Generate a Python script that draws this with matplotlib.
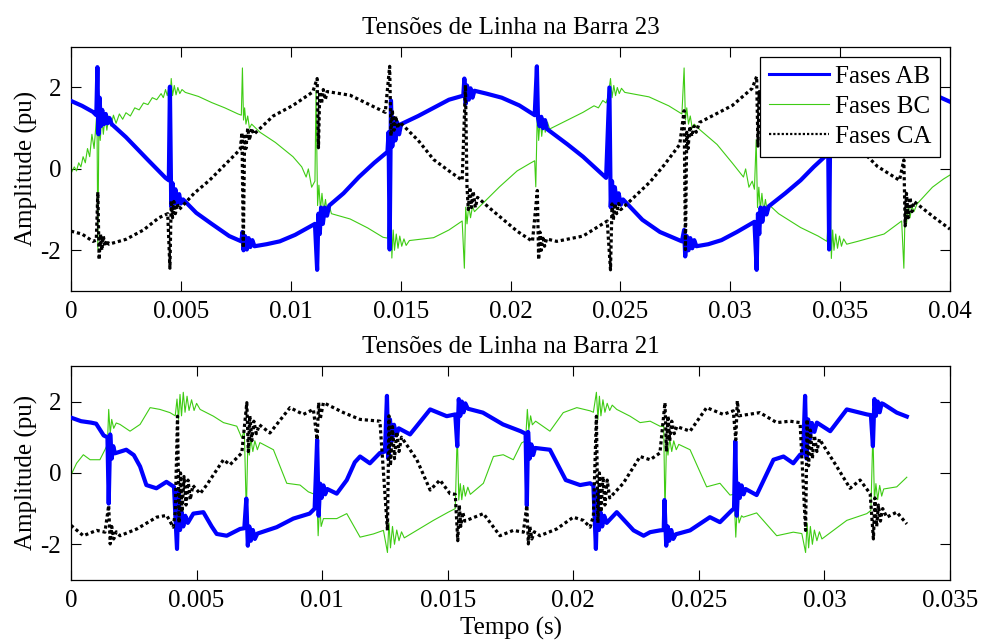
import numpy as np
import matplotlib
matplotlib.use("Agg")
import matplotlib.pyplot as plt

plt.rcParams['font.family'] = ['Liberation Serif', 'DejaVu Serif']
plt.rcParams['axes.unicode_minus'] = False

# ---- Barra 23 (tempo em ms, tensão em pu) ----
ab_23 = [(0.0, 1.67), (0.5, 1.55), (1.0, 1.40), (1.15, 1.32),
         (1.2, 2.50), (1.25, 0.85), (1.3, 1.75), (1.36, 1.05), (1.42, 1.45), (1.5, 1.10), (1.58, 1.35),
         (1.66, 1.12), (1.75, 1.25), (1.85, 1.10),
         (2.5, 0.78), (3.5, 0.22), (4.3, -0.22), (4.45, -0.28),
         (4.5, 2.02), (4.56, -0.92), (4.62, -0.35), (4.68, -0.85), (4.75, -0.50), (4.83, -0.85),
         (4.92, -0.62), (5.0, -0.85), (5.1, -0.75),
         (5.7, -1.08), (6.4, -1.35), (7.2, -1.65), (7.75, -1.78),
         (7.8, -1.55), (7.85, -2.0), (7.92, -1.65), (8.0, -1.98), (8.08, -1.7), (8.16, -1.92), (8.25, -1.75),
         (8.35, -1.9),
         (8.9, -1.85), (9.5, -1.78), (10.2, -1.62), (11.1, -1.35),
         (11.2, -2.48), (11.26, -1.1), (11.32, -1.6), (11.38, -0.95), (11.46, -1.35), (11.55, -0.95),
         (11.65, -1.15), (11.75, -0.9),
         (12.4, -0.6), (13.1, -0.2), (13.8, 0.15), (14.4, 0.42),
         (14.45, 0.9), (14.5, -1.98), (14.56, 1.68), (14.62, 0.55), (14.68, 1.25), (14.76, 0.7), (14.84, 1.15),
         (14.93, 0.85), (15.02, 1.1),
         (15.8, 1.3), (16.5, 1.5), (17.2, 1.7), (17.85, 1.8),
         (17.9, 2.22), (17.96, 1.6), (18.02, 2.05), (18.1, 1.7), (18.18, 1.98), (18.27, 1.75), (18.36, 1.92),
         (18.9, 1.85), (19.6, 1.75), (20.4, 1.56), (21.1, 1.32),
         (21.2, 2.52), (21.25, 1.25), (21.32, 1.05), (21.4, 1.28), (21.48, 1.0), (21.57, 1.2), (21.66, 0.98),
         (22.6, 0.6), (23.3, 0.3), (24.35, -0.22),
         (24.5, 2.0), (24.56, -0.94), (24.62, -0.3), (24.68, -0.85), (24.75, -0.45), (24.83, -0.85),
         (24.92, -0.6), (25.02, -0.88), (25.12, -0.75),
         (26.0, -1.25), (26.8, -1.55), (27.8, -1.78),
         (27.9, -1.5), (27.95, -2.15), (28.02, -1.65), (28.1, -2.0), (28.18, -1.7), (28.27, -1.95),
         (28.36, -1.75), (28.46, -1.9),
         (29.0, -1.85), (29.6, -1.75), (30.3, -1.55), (31.1, -1.3),
         (31.2, -2.48), (31.26, -1.1), (31.32, -1.6), (31.38, -0.95), (31.46, -1.3), (31.55, -0.95),
         (31.65, -1.12), (31.75, -0.92),
         (32.5, -0.6), (33.2, -0.28), (33.8, 0.05), (34.4, 0.35),
         (34.45, 0.9), (34.5, -1.98), (34.56, 1.7), (34.62, 0.55), (34.68, 1.25), (34.76, 0.75), (34.85, 1.15),
         (34.95, 0.9),
         (35.8, 1.25), (36.6, 1.55), (37.5, 1.78), (37.85, 1.82),
         (37.9, 2.2), (37.96, 1.6), (38.05, 1.95), (38.15, 1.75),
         (38.8, 1.84), (39.5, 1.77), (40.0, 1.65)]

bc_23 = [(0.0, -0.11), (0.15, 0.05), (0.25, -0.05), (0.35, 0.15), (0.45, 0.05), (0.55, 0.3), (0.65, 0.15),
         (0.75, 0.5), (0.85, 0.3), (0.95, 0.85), (1.05, 0.5), (1.12, 1.0),
         (1.18, 1.4), (1.22, -1.98), (1.27, 1.15), (1.33, 0.7), (1.4, 1.3), (1.47, 0.85), (1.55, 1.3),
         (1.63, 0.95), (1.72, 1.3), (1.82, 1.05), (1.93, 1.32), (2.05, 1.12), (2.2, 1.35), (2.35, 1.22),
         (2.5, 1.38), (2.7, 1.3), (2.9, 1.5), (3.1, 1.45), (3.3, 1.62), (3.5, 1.58), (3.7, 1.75), (3.9, 1.7),
         (4.1, 1.85), (4.2, 1.75), (4.3, 1.95), (4.38, 1.8),
         (4.45, 2.0), (4.5, 1.6), (4.56, 2.22), (4.62, 1.8), (4.7, 2.05), (4.78, 1.82), (4.86, 2.0),
         (4.95, 1.85), (5.05, 1.95), (5.2, 1.88),
         (5.8, 1.78), (6.4, 1.63), (7.0, 1.5), (7.6, 1.35), (7.75, 1.32),
         (7.8, 2.48), (7.85, 1.2), (7.9, 1.5), (7.96, 1.1), (8.04, 1.3), (8.12, 1.0), (8.22, 1.1),
         (8.6, 0.9), (9.3, 0.65), (10.1, 0.3), (10.5, 0.05), (10.7, -0.2), (10.8, 0.0), (10.95, -0.45),
         (11.1, -0.3),
         (11.15, 1.93), (11.22, -0.9), (11.28, -0.4), (11.35, -1.0), (11.42, -0.6), (11.5, -1.05),
         (11.58, -0.75), (11.66, -1.1), (11.75, -0.9), (11.85, -1.1),
         (12.7, -1.23), (13.5, -1.45), (14.2, -1.68), (14.4, -1.7),
         (14.55, -0.53), (14.6, -2.19), (14.66, -1.5), (14.72, -2.0), (14.8, -1.6), (14.88, -1.95),
         (14.96, -1.65), (15.05, -1.9), (15.15, -1.72), (15.25, -1.88), (15.4, -1.76),
         (16.5, -1.69), (17.2, -1.5), (17.8, -1.28),
         (17.9, -2.44), (17.96, -0.94), (18.02, -1.35), (18.1, -0.9), (18.18, -1.2), (18.27, -0.92),
         (18.36, -1.05),
         (19.5, -0.44), (20.3, -0.05), (20.9, 0.14), (21.1, 0.2),
         (21.15, -0.44), (21.22, 1.43), (21.28, 0.7), (21.35, 1.25), (21.42, 0.8), (21.5, 1.2), (21.58, 0.9),
         (21.68, 1.15), (21.78, 0.98),
         (22.6, 1.2), (23.3, 1.39), (23.8, 1.55), (24.0, 1.5), (24.2, 1.68), (24.35, 1.62),
         (24.45, 1.8), (24.55, 2.22), (24.62, 1.75), (24.7, 2.05), (24.78, 1.8), (24.86, 2.0), (24.95, 1.85),
         (25.05, 1.98), (25.2, 1.88),
         (26.3, 1.77), (27.2, 1.55), (27.8, 1.35),
         (27.9, 2.48), (27.96, 1.2), (28.02, 1.5), (28.1, 1.1), (28.18, 1.3), (28.27, 1.0), (28.36, 1.1),
         (28.6, 0.97), (29.4, 0.6), (30.1, 0.14), (30.6, -0.2), (30.7, 0.0), (30.85, -0.45), (31.0, -0.3),
         (31.1, -0.5),
         (31.18, 0.72), (31.24, -0.95), (31.3, -0.45), (31.37, -1.0), (31.44, -0.6), (31.52, -1.05),
         (31.6, -0.75), (31.7, -1.1), (31.8, -0.9),
         (32.2, -1.1), (33.2, -1.44), (34.0, -1.65), (34.4, -1.78),
         (34.55, -0.53), (34.6, -2.2), (34.66, -1.5), (34.72, -2.0), (34.8, -1.6), (34.88, -1.95),
         (34.97, -1.65), (35.06, -1.9), (35.16, -1.72), (35.3, -1.85),
         (35.8, -1.78), (37.0, -1.6), (37.8, -1.28),
         (37.9, -2.44), (37.96, -0.95), (38.02, -1.35), (38.1, -0.9), (38.18, -1.2), (38.27, -0.92),
         (38.36, -1.05), (38.5, -0.86),
         (39.2, -0.45), (39.7, -0.25), (40.0, -0.15)]

ca_23 = [(0.0, -1.53), (0.5, -1.6), (1.0, -1.78), (1.15, -1.75),
         (1.22, -0.57), (1.28, -2.23), (1.34, -1.6), (1.4, -2.0), (1.47, -1.65), (1.55, -1.9), (1.63, -1.75),
         (1.72, -1.85),
         (2.5, -1.73), (3.3, -1.5), (4.0, -1.2), (4.4, -1.1),
         (4.5, -2.44), (4.56, -0.78), (4.62, -1.2), (4.68, -0.8), (4.75, -1.1), (4.83, -0.85), (4.92, -1.0),
         (5.6, -0.6), (6.3, -0.28), (7.0, 0.1), (7.7, 0.48),
         (7.78, 0.89), (7.84, -1.94), (7.9, 0.8), (7.96, 0.5), (8.04, 1.0), (8.12, 0.7), (8.22, 1.0),
         (8.32, 0.85),
         (9.2, 1.3), (10.1, 1.56), (11.0, 1.89),
         (11.2, 2.22), (11.26, 0.52), (11.32, 1.9), (11.4, 1.6), (11.48, 1.95), (11.57, 1.7), (11.66, 1.9),
         (12.7, 1.81), (13.5, 1.6), (14.3, 1.39),
         (14.5, 2.52), (14.56, 0.81), (14.62, 1.45), (14.7, 0.95), (14.78, 1.3), (14.87, 1.0), (14.96, 1.15),
         (15.8, 0.7), (16.5, 0.23), (17.2, -0.05), (17.8, -0.28),
         (17.95, 2.06), (18.02, -0.45), (18.08, -1.0), (18.15, -0.45), (18.22, -0.95), (18.3, -0.55),
         (18.4, -0.95), (18.5, -0.7),
         (19.0, -0.94), (20.3, -1.53), (21.0, -1.78),
         (21.22, -0.53), (21.28, -2.23), (21.34, -1.55), (21.4, -2.0), (21.47, -1.65), (21.55, -1.9),
         (21.64, -1.72),
         (22.1, -1.78), (23.3, -1.65), (24.4, -1.28),
         (24.55, -2.48), (24.62, -0.86), (24.68, -1.25), (24.75, -0.85), (24.83, -1.1), (24.92, -0.85),
         (25.02, -1.0),
         (25.3, -0.86), (26.35, -0.32), (27.0, 0.1), (27.7, 0.6),
         (27.9, 1.43), (27.96, -1.98), (28.02, 0.9), (28.08, 0.5), (28.16, 1.05), (28.25, 0.8), (28.35, 1.05),
         (28.45, 0.9),
         (28.6, 1.14), (30.1, 1.56), (31.0, 1.98),
         (31.2, 2.27), (31.26, 0.56), (31.32, 1.9), (31.4, 1.6), (31.48, 1.95), (31.57, 1.7), (31.66, 1.9),
         (32.5, 1.8), (33.5, 1.45), (34.3, 1.1),
         (34.5, 2.3), (34.56, 0.8), (34.62, 1.3), (34.7, 0.9), (34.8, 1.2), (34.9, 0.95),
         (35.8, 0.55), (36.7, 0.06), (37.7, -0.28),
         (37.9, 0.22), (37.96, -1.4), (38.02, -0.6), (38.1, -1.2), (38.18, -0.7), (38.27, -1.05), (38.36, -0.8),
         (38.5, -0.86), (39.3, -1.2), (40.0, -1.48)]

# ---- Barra 21 ----
ab_21 = [(0.0, 1.55), (0.4, 1.45), (0.8, 1.41), (1.0, 1.38), (1.3, 1.05), (1.45, 1.0),
         (1.5, -0.86), (1.56, 1.08), (1.62, 0.4), (1.68, 0.75), (1.75, 0.55),
         (2.2, 0.65), (2.5, 0.5), (2.75, 0.18), (3.0, -0.34), (3.4, -0.43), (3.8, -0.25), (4.1, -0.39),
         (4.22, -2.13), (4.28, -0.5), (4.34, -1.6), (4.4, -1.1), (4.47, -1.5), (4.55, -1.2), (4.65, -1.4),
         (4.87, -1.14), (5.27, -1.1), (5.6, -1.5), (5.8, -1.71), (6.2, -1.76), (6.73, -1.57), (6.9, -1.55),
         (6.98, -0.72), (7.04, -2.04), (7.1, -1.5), (7.16, -1.9), (7.24, -1.6), (7.32, -1.85), (7.42, -1.7),
         (8.19, -1.52), (8.85, -1.28), (9.5, -1.14), (9.7, -1.0),
         (9.8, 0.93), (9.86, -1.2), (9.92, -0.3), (9.98, -0.7), (10.05, -0.35), (10.12, -0.6), (10.2, -0.45),
         (10.58, -0.58), (10.98, -0.2), (11.3, 0.3), (11.51, 0.46), (11.9, 0.27), (12.3, 0.56), (12.5, 0.6),
         (12.58, 2.16), (12.64, 0.4), (12.7, 1.5), (12.78, 0.9), (12.86, 1.35), (12.95, 1.05), (13.05, 1.25),
         (13.5, 1.08), (14.3, 1.78), (14.96, 1.59), (15.3, 1.64),
         (15.38, 0.75), (15.44, 2.07), (15.5, 1.6), (15.56, 2.0), (15.63, 1.7), (15.7, 1.95), (15.8, 1.8),
         (16.4, 1.69), (17.2, 1.36), (17.9, 1.17), (18.1, 1.1),
         (18.15, -0.91), (18.2, 1.15), (18.26, 0.4), (18.33, 0.8), (18.4, 0.5), (18.48, 0.7),
         (19.07, 0.65), (19.7, -0.2), (20.27, -0.34), (20.67, -0.29), (20.8, -0.35),
         (20.9, -2.13), (20.96, -0.5), (21.02, -1.6), (21.08, -1.1), (21.15, -1.5), (21.23, -1.2), (21.33, -1.4),
         (21.73, -1.1), (22.4, -1.61), (22.8, -1.76), (23.06, -1.66), (23.45, -1.61), (23.6, -1.6),
         (23.63, -0.76), (23.7, -2.04), (23.76, -1.5), (23.82, -1.9), (23.9, -1.6), (23.98, -1.85),
         (24.08, -1.72),
         (24.65, -1.61), (25.44, -1.24), (25.84, -1.38), (26.31, -1.05), (26.4, -1.0),
         (26.45, 0.89), (26.51, -1.2), (26.57, -0.3), (26.63, -0.7), (26.7, -0.35), (26.78, -0.6),
         (26.86, -0.45),
         (27.3, -0.62), (27.97, 0.37), (28.37, 0.46), (28.76, 0.27), (29.03, 0.51), (29.15, 0.55),
         (29.23, 2.16), (29.29, 0.4), (29.35, 1.5), (29.42, 0.95), (29.5, 1.4), (29.6, 1.15), (29.7, 1.41),
         (30.23, 1.17), (30.89, 1.78), (31.69, 1.64), (31.85, 1.62),
         (31.93, 0.75), (31.99, 2.07), (32.05, 1.6), (32.12, 2.0), (32.2, 1.7), (32.28, 1.95),
         (32.35, 1.93), (32.88, 1.69), (33.28, 1.58)]

bc_21 = [(0.0, -0.06), (0.22, 0.27), (0.49, 0.51), (0.76, 0.37), (1.15, 0.37), (1.35, 0.65), (1.45, 0.8),
         (1.5, 1.78), (1.56, 1.1), (1.62, 1.5), (1.7, 1.25), (1.8, 1.4),
         (1.95, 1.36), (2.35, 1.17), (2.75, 1.36), (3.15, 1.83), (3.54, 1.78), (3.94, 1.69), (4.15, 1.6),
         (4.22, 2.07), (4.28, 1.5), (4.34, 2.2), (4.4, 1.6), (4.47, 2.26), (4.54, 1.7), (4.62, 2.15),
         (4.7, 1.75), (4.8, 2.05), (4.9, 1.75), (5.0, 1.95),
         (5.14, 1.78), (5.67, 1.59), (6.07, 1.41), (6.6, 1.31), (6.8, 0.98), (6.9, 1.2),
         (6.98, -1.14), (7.04, 0.84), (7.1, 0.5), (7.16, 0.95), (7.24, 0.6), (7.32, 0.9), (7.42, 0.65),
         (7.52, 0.85),
         (8.06, 0.65), (8.59, -0.29), (9.12, -0.34), (9.45, -0.53), (9.7, -0.6),
         (9.78, -0.4), (9.84, -1.76), (9.9, -0.9), (9.96, -1.5), (10.05, -1.28),
         (10.58, -1.28), (10.98, -1.14), (11.51, -1.8), (12.04, -1.71), (12.44, -1.61),
         (12.6, -2.23), (12.66, -1.4), (12.72, -2.1), (12.8, -1.5), (12.88, -2.0), (12.97, -1.6), (13.06, -1.9),
         (13.16, -1.65), (13.27, -1.82),
         (13.77, -1.61), (14.43, -1.33), (15.02, -1.1), (15.3, -1.0),
         (15.38, 1.17), (15.44, -0.76), (15.5, -0.3), (15.56, -0.75), (15.63, -0.35), (15.7, -0.65),
         (15.8, -0.4), (15.9, -0.6),
         (16.42, -0.29), (16.82, 0.46), (17.21, 0.51), (17.61, 0.37), (17.94, 0.84), (18.1, 0.9),
         (18.17, 1.78), (18.23, 1.2), (18.3, 1.6), (18.37, 1.35),
         (18.5, 1.45), (19.07, 1.17), (19.6, 1.69), (20.14, 1.83), (20.67, 1.74), (20.8, 1.7),
         (20.92, 2.26), (20.98, 1.5), (21.04, 2.15), (21.1, 1.6), (21.18, 2.05), (21.26, 1.7), (21.35, 1.95),
         (21.45, 1.75), (21.55, 1.9),
         (21.73, 1.78), (22.26, 1.59), (22.66, 1.41), (23.06, 1.45), (23.45, 1.31), (23.6, 1.3),
         (23.65, -1.14), (23.71, 0.84), (23.77, 0.5), (23.84, 0.95), (23.92, 0.6), (24.0, 0.9), (24.1, 0.65),
         (24.2, 0.8),
         (24.65, 0.65), (25.31, -0.39), (25.84, -0.29), (26.24, -0.62), (26.4, -0.6),
         (26.47, -1.8), (26.53, -0.9), (26.6, -1.4), (26.7, -1.2),
         (26.77, -1.24), (27.3, -1.12), (28.1, -1.76), (28.76, -1.66), (29.1, -1.7),
         (29.25, -2.23), (29.31, -1.4), (29.37, -2.1), (29.44, -1.5), (29.52, -2.0), (29.6, -1.6), (29.7, -1.9),
         (29.8, -1.65), (29.9, -1.85),
         (30.89, -1.33), (31.69, -1.14), (31.85, -1.05),
         (31.93, 1.17), (31.99, -0.76), (32.05, -0.3), (32.12, -0.75), (32.2, -0.35), (32.28, -0.65),
         (32.36, -0.45),
         (32.88, -0.39), (33.28, -0.12)]

ca_21 = [(0.0, -1.47), (0.49, -1.76), (1.02, -1.61), (1.35, -1.66),
         (1.5, -0.91), (1.56, -1.99), (1.62, -1.5), (1.7, -1.85), (1.8, -1.65),
         (1.95, -1.76), (2.62, -1.57), (3.41, -1.24), (3.81, -1.19), (4.07, -1.52), (4.15, -1.1),
         (4.24, 1.59), (4.3, -1.4), (4.36, 0.0), (4.42, -1.1), (4.5, -0.1), (4.58, -0.9), (4.66, -0.2),
         (4.75, -0.75), (4.85, -0.35),
         (5.14, -0.58), (5.4, -0.34), (6.07, 0.37), (6.33, 0.23), (6.8, 0.56),
         (7.0, 1.97), (7.06, 0.6), (7.12, 1.6), (7.2, 0.9), (7.28, 1.45), (7.38, 1.1), (7.5, 1.35),
         (7.92, 1.12), (8.72, 1.83), (9.25, 1.64), (9.65, 1.78),
         (9.8, 0.93), (9.86, 1.97), (9.92, 1.5),
         (10.05, 1.97), (10.85, 1.69), (11.51, 1.5), (12.3, 1.45),
         (12.6, -1.61), (12.66, 1.6), (12.72, 0.2), (12.8, 1.3), (12.88, 0.4), (12.97, 1.15), (13.06, 0.6),
         (13.16, 1.0),
         (13.77, 0.37), (14.3, -0.48), (14.69, -0.2), (15.09, -0.58), (15.3, -0.6),
         (15.4, -1.9), (15.46, -0.9), (15.52, -1.5), (15.6, -1.1), (15.68, -1.35),
         (16.42, -1.14), (17.08, -1.76), (17.61, -1.61), (18.01, -1.66),
         (18.15, -0.91), (18.21, -1.99), (18.27, -1.5), (18.35, -1.85), (18.45, -1.65),
         (18.67, -1.76), (19.34, -1.57), (20.0, -1.24), (20.4, -1.33), (20.67, -1.52), (20.8, -1.2),
         (20.92, 1.59), (20.98, -1.4), (21.04, 0.0), (21.1, -1.1), (21.18, -0.1), (21.26, -0.9), (21.35, -0.2),
         (21.45, -0.7),
         (21.99, -0.29), (22.66, 0.46), (23.06, 0.37), (23.45, 0.56),
         (23.65, 1.97), (23.71, 0.6), (23.77, 1.6), (23.84, 0.9), (23.92, 1.45), (24.02, 1.1), (24.12, 1.3),
         (24.65, 1.17), (25.31, 1.83), (25.97, 1.64), (26.37, 1.74),
         (26.47, 0.93), (26.53, 2.02), (26.6, 1.6),
         (27.43, 1.69), (28.1, 1.41), (28.63, 1.45), (29.03, 1.41),
         (29.25, -1.61), (29.31, 1.5), (29.37, 0.2), (29.44, 1.2), (29.52, 0.4), (29.6, 1.05), (29.7, 0.6),
         (29.8, 0.95),
         (30.49, 0.18), (31.02, -0.43), (31.42, -0.2), (31.82, -0.58),
         (31.95, -1.85), (32.01, -0.7), (32.08, -1.5), (32.15, -0.9), (32.23, -1.35), (32.32, -1.0),
         (32.48, -1.24), (32.88, -1.1), (33.28, -1.43)]

xticks_23 = [0, 0.005, 0.01, 0.015, 0.02, 0.025, 0.03, 0.035, 0.04]
xticks_21 = [0, 0.005, 0.01, 0.015, 0.02, 0.025, 0.03, 0.035]
yticks = [-2, 0, 2]
legend_labels = ['Fases AB', 'Fases BC', 'Fases CA']


def serie(pts):
    arr = np.array(pts)
    return arr[:, 0] / 1000.0, arr[:, 1]


def desenha(ax, ab, bc, ca, xticks, xmax):
    t, v = serie(ab)
    ax.plot(t, v, color='#0000ff', lw=3.0, label=legend_labels[0], zorder=3)
    t, v = serie(bc)
    ax.plot(t, v, color='#3fcc14', lw=0.8, label=legend_labels[1], zorder=2)
    t, v = serie(ca)
    ax.plot(t, v, color='black', lw=2.3, linestyle=(0, (1, 0.9)), dash_capstyle='butt',
            label=legend_labels[2], zorder=4)
    ax.set_xlim(0, xmax)
    ax.set_ylim(-3, 3)
    ax.set_xticks(xticks)
    ax.set_xticklabels(['%g' % x for x in xticks])
    ax.set_yticks(yticks)
    ax.set_yticklabels(['%d' % y for y in yticks])
    ax.tick_params(direction='in', top=True, right=True, length=7, width=0.8,
                   labelsize=18, pad=7)
    for s in ax.spines.values():
        s.set_linewidth(0.9)
    ax.set_ylabel('Amplitude (pu)', fontsize=18, labelpad=2)


fig = plt.figure(figsize=(9.81, 6.41), dpi=100)

ax1 = fig.add_axes([0.0724, 0.546, 0.896, 0.381])
desenha(ax1, ab_23, bc_23, ca_23, xticks_23, 0.04)
ax1.set_title('Tensões de Linha na Barra 23', fontsize=18, pad=9)
leg = ax1.legend(loc='upper right', fontsize=18, frameon=True, fancybox=False, framealpha=1,
                 edgecolor='black', handlelength=2.4, handletextpad=0.25, labelspacing=0.3,
                 borderpad=0.35, borderaxespad=0.4)
leg.get_frame().set_linewidth(0.9)
for h in leg.get_lines():
    if h.get_color() == '#0000ff':
        h.set_linewidth(2.2)
    if h.get_color() == 'black':
        h.set_linewidth(1.6)

ax2 = fig.add_axes([0.0724, 0.0952, 0.896, 0.334])
desenha(ax2, ab_21, bc_21, ca_21, xticks_21, 0.035)
ax2.set_title('Tensões de Linha na Barra 21', fontsize=18, pad=9)
ax2.set_xlabel('Tempo (s)', fontsize=18, labelpad=4)

fig.savefig('out.png', dpi=100)
